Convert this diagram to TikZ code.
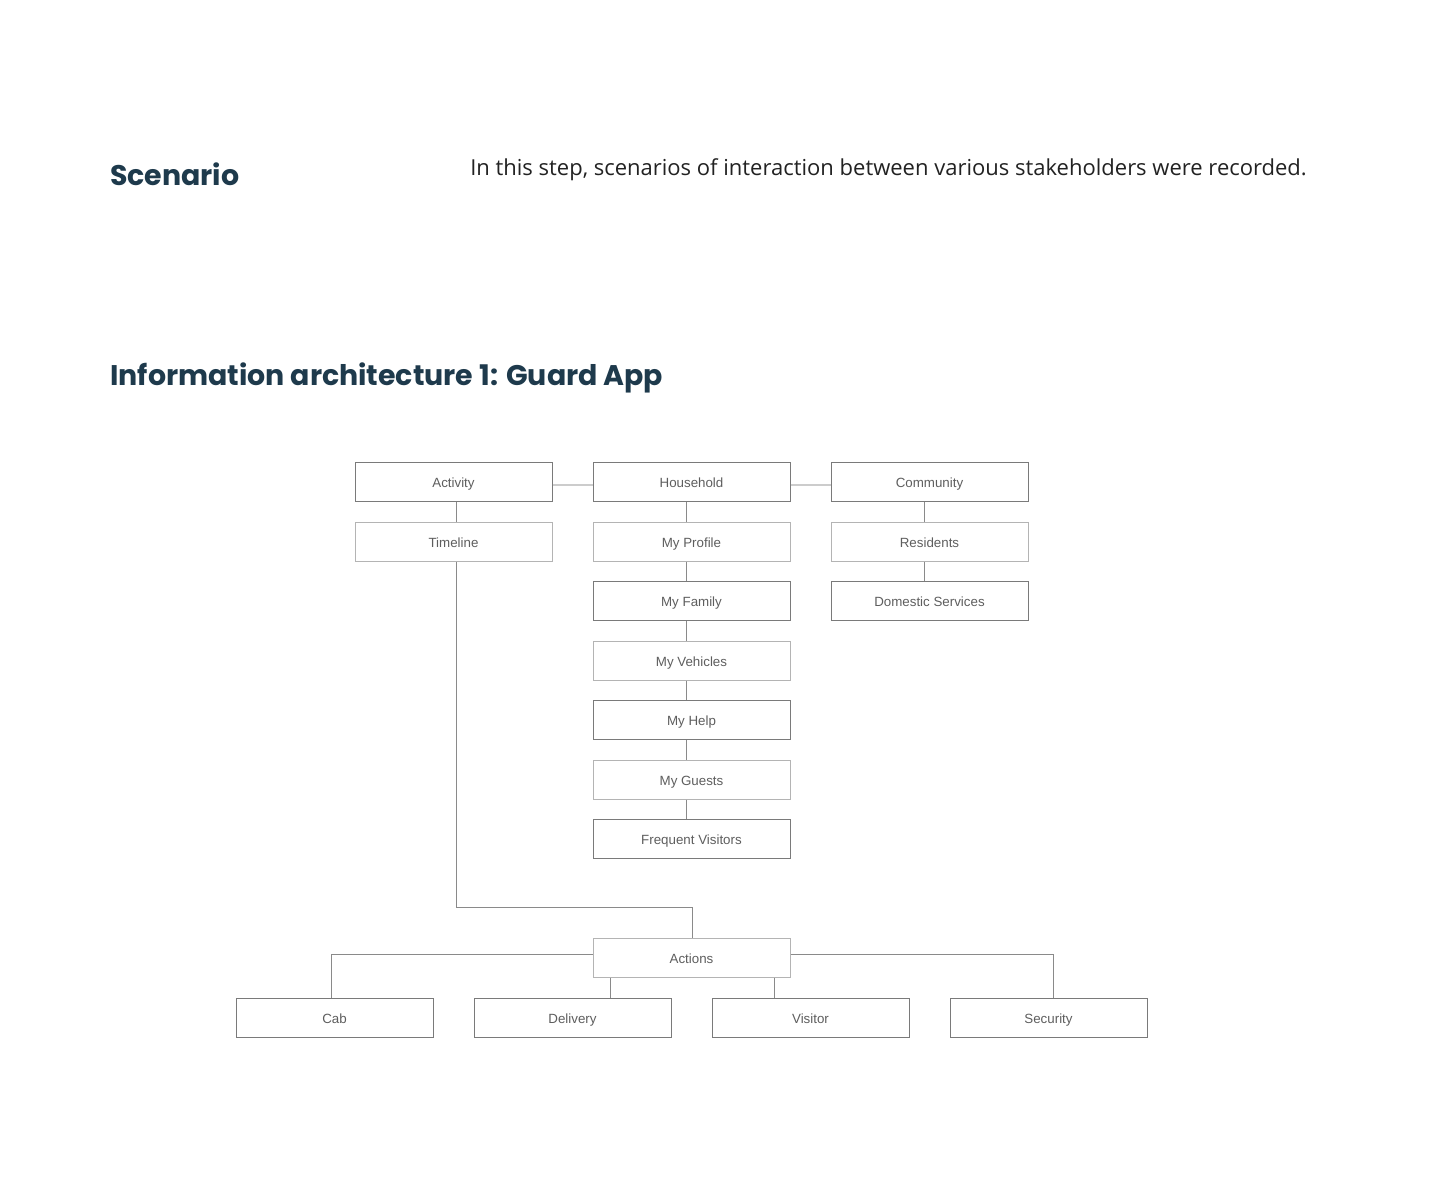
\documentclass[tikz,border=0pt]{standalone}
\usepackage{fontspec}
\setmainfont{Open Sans}
\newfontfamily\headfont{Poppins}
\newfontfamily\boxfont{Liberation Sans}
\definecolor{headc}{HTML}{1E3A4C}
\definecolor{bodyc}{HTML}{222222}
\definecolor{labc}{HTML}{5E5E5E}
\definecolor{bdark}{HTML}{7A7A7A}
\definecolor{blight}{HTML}{B4B4B4}
\definecolor{conn}{HTML}{8A8A8A}
\definecolor{connl}{HTML}{CCCCCC}
\tikzset{
  iabox/.style={draw=bdark, line width=0.75pt, minimum width=147.75pt, minimum height=29.25pt, inner sep=0pt,
    text height=9.4pt, text depth=0pt,
    font=\boxfont\fontsize{10}{12}\selectfont, text=labc},
  iaboxl/.style={iabox, draw=blight},
  iaconn/.style={draw=conn, line width=0.75pt},
  iaconnl/.style={draw=connl, line width=1.2pt},
  heading/.style={anchor=base west, inner sep=0pt, font=\headfont\bfseries\fontsize{21.3}{25}\selectfont, text=headc},
}
\begin{document}
\begin{tikzpicture}[x=0.75pt, y=-0.75pt]
\useasboundingbox[fill=white] (0,0) rectangle (1440,1179);
\node[heading] (h1) at (110,185) {Scenario};
\node[anchor=base west, inner sep=0pt, font=\fontsize{16.5}{19}\selectfont, text=bodyc] (intro) at (470,175) {In this step, scenarios of interaction between various stakeholders were recorded.};
\node[heading] (h2) at (110,385) {Information architecture 1: Guard App};

% top row
\node[iabox] (act) at (453.5,481.5) {Activity};
\node[iabox] (hh) at (691.5,481.5) {Household};
\node[iabox] (com) at (929.5,481.5) {Community};
% activity column
\node[iaboxl] (tl) at (453.5,541.5) {Timeline};
% household column
\node[iaboxl] (prof) at (691.5,541.5) {My Profile};
\node[iabox] (fam) at (691.5,600.5) {My Family};
\node[iaboxl] (veh) at (691.5,660.5) {My Vehicles};
\node[iabox] (help) at (691.5,719.5) {My Help};
\node[iaboxl] (gue) at (691.5,779.5) {My Guests};
\node[iabox] (freq) at (691.5,838.5) {Frequent Visitors};
% community column
\node[iaboxl] (res) at (929.5,541.5) {Residents};
\node[iabox] (dom) at (929.5,600.5) {Domestic Services};
% actions
\node[iaboxl] (acts) at (691.5,957.5) {Actions};
\node[iabox] (cab) at (334.5,1017.5) {Cab};
\node[iabox] (del) at (572.5,1017.5) {Delivery};
\node[iabox] (vis) at (810.5,1017.5) {Visitor};
\node[iabox] (sec) at (1048.5,1017.5) {Security};

% horizontal links top row
\draw[iaconnl] ([yshift=-2.6pt]act.east) -- ([yshift=-2.6pt]hh.west);
\draw[iaconnl] ([yshift=-2.6pt]hh.east) -- ([yshift=-2.6pt]com.west);

% vertical links
\draw[iaconn] ([xshift=2.6pt]act.south) -- ([xshift=2.6pt]tl.north);
\draw[iaconn] ([xshift=-3.4pt]hh.south) -- ([xshift=-3.4pt]prof.north);
\draw[iaconn] ([xshift=-3.4pt]prof.south) -- ([xshift=-3.4pt]fam.north);
\draw[iaconn] ([xshift=-3.4pt]fam.south) -- ([xshift=-3.4pt]veh.north);
\draw[iaconn] ([xshift=-3.4pt]veh.south) -- ([xshift=-3.4pt]help.north);
\draw[iaconn] ([xshift=-3.4pt]help.south) -- ([xshift=-3.4pt]gue.north);
\draw[iaconn] ([xshift=-3.4pt]gue.south) -- ([xshift=-3.4pt]freq.north);
\draw[iaconn] ([xshift=-3.4pt]com.south) -- ([xshift=-3.4pt]res.north);
\draw[iaconn] ([xshift=-3.4pt]res.south) -- ([xshift=-3.4pt]dom.north);

% timeline to actions
\draw[iaconn] ([xshift=2.6pt]tl.south) -- ++(0,346) -| ([xshift=0.4pt]acts.north);

% actions to children
\draw[iaconn] ([yshift=2.6pt]acts.west) -| ([xshift=-2.6pt]cab.north);
\draw[iaconn] ([yshift=2.6pt]acts.east) -| ([xshift=3.4pt]sec.north);
\draw[iaconn] ([xshift=-61.1pt]acts.south) -- ([xshift=-61.1pt]acts.south |- del.north);
\draw[iaconn] ([xshift=62.6pt]acts.south) -- ([xshift=62.6pt]acts.south |- vis.north);
\end{tikzpicture}
\end{document}
